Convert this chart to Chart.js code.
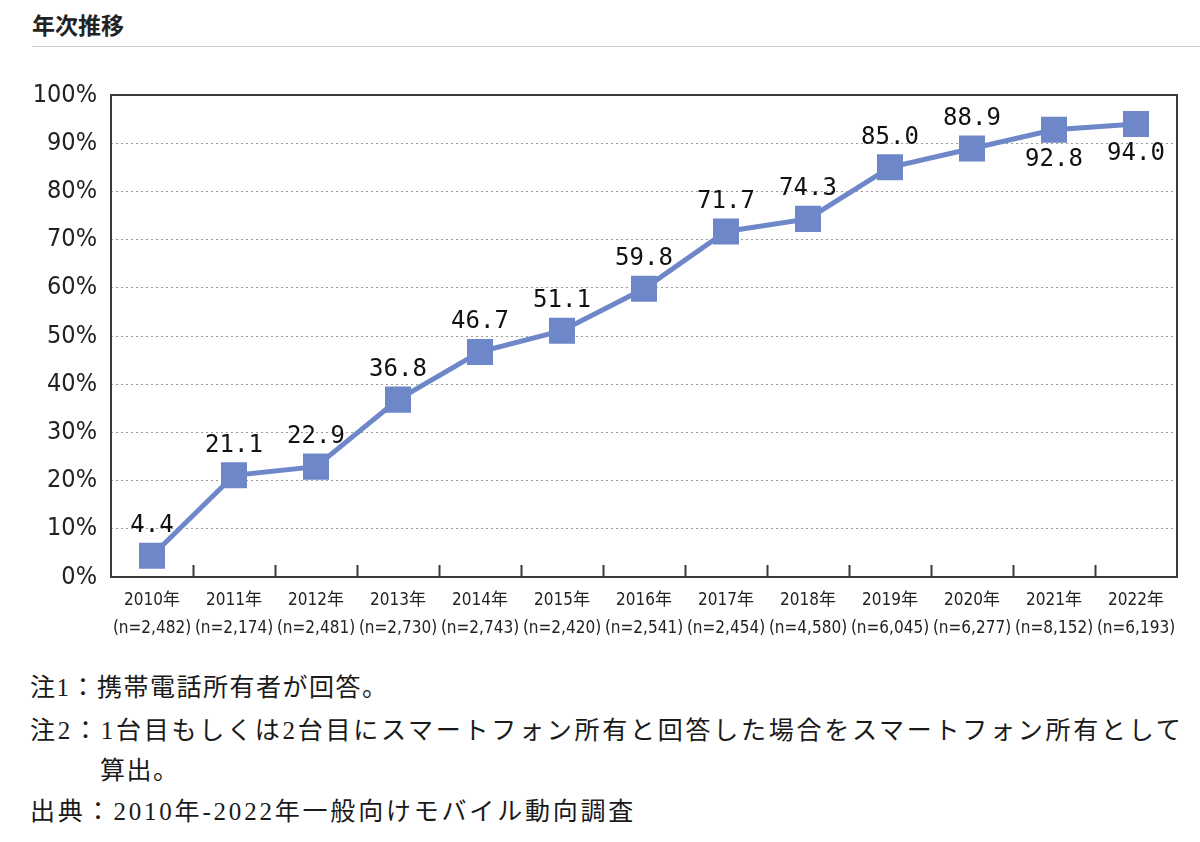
<!DOCTYPE html>
<html lang="ja">
<head>
<meta charset="utf-8">
<script src="https://cdn.jsdelivr.net/npm/chart.js@4"></script>
<style>
  body { margin: 0; background: #fff; width: 1200px; height: 842px; position: relative; overflow: hidden; }
  #title { position: absolute; left: 32px; top: 8px; font: bold 23px "Noto Sans CJK JP", sans-serif; color: #222; line-height: 32px; }
  #rule { position: absolute; left: 32px; right: 0; top: 46px; height: 0; border-top: 1px solid #c8c8c8; }
  #chartBox { position: absolute; left: 0; top: 60px; width: 1200px; height: 600px; }
  .note { position: absolute; left: 30px; font: 25px "Liberation Serif", "Noto Sans CJK JP", serif; color: #1a1a1a; line-height: 34px; white-space: nowrap; letter-spacing: 1.5px; }
</style>
</head>
<body>
<div id="title">年次推移</div>
<div id="rule"></div>
<div id="chartBox"><canvas id="myChart" width="1200" height="600"></canvas></div>
<div class="note" style="top:671px">注1：携帯電話所有者が回答。</div>
<div class="note" style="top:714px;letter-spacing:2.75px">注2：1台目もしくは2台目にスマートフォン所有と回答した場合をスマートフォン所有として</div>
<div class="note" style="top:754px;left:100px">算出。</div>
<div class="note" style="top:795px;letter-spacing:2.8px">出典：2010年-2022年一般向けモバイル動向調査</div>
<script>
const years = ["2010年", "2011年", "2012年", "2013年", "2014年", "2015年", "2016年", "2017年", "2018年", "2019年", "2020年", "2021年", "2022年"];
const sampleSizes = ["(n=2,482)", "(n=2,174)", "(n=2,481)", "(n=2,730)", "(n=2,743)", "(n=2,420)", "(n=2,541)", "(n=2,454)", "(n=4,580)", "(n=6,045)", "(n=6,277)", "(n=8,152)", "(n=6,193)"];
const ownership = [4.4, 21.1, 22.9, 36.8, 46.7, 51.1, 59.8, 71.7, 74.3, 85.0, 88.9, 92.8, 94.0];

const labels = years.map(function (y, i) { return [y, sampleSizes[i]]; });
const lineColor = "#6e87c8";
const condensed = '"DejaVu Sans Condensed", "Noto Sans CJK JP", sans-serif';
// labels drawn under the marker instead of above
const labelsBelow = [11, 12];

// frame around plot area plus short ticks between categories
const framePlugin = {
  id: "frame",
  beforeDatasetsDraw(chart) {
    const ctx = chart.ctx;
    const a = chart.chartArea;
    const xs = chart.scales.x;
    ctx.save();
    ctx.strokeStyle = "#3a3a3a";
    ctx.lineWidth = 2;
    ctx.strokeRect(a.left, a.top, a.right - a.left, a.bottom - a.top);
    ctx.beginPath();
    for (let i = 1; i < labels.length; i++) {
      const x = Math.round((xs.getPixelForTick(i - 1) + xs.getPixelForTick(i)) / 2) + 0.5;
      ctx.moveTo(x, a.bottom);
      ctx.lineTo(x, a.bottom - 12);
    }
    ctx.stroke();
    ctx.restore();
  }
};

const valueLabels = {
  id: "valueLabels",
  afterDatasetsDraw(chart) {
    const ctx = chart.ctx;
    const meta = chart.getDatasetMeta(0);
    ctx.save();
    ctx.font = '24px "DejaVu Sans Mono", monospace';
    ctx.fillStyle = "#111";
    ctx.textAlign = "center";
    ctx.textBaseline = "middle";
    meta.data.forEach(function (pt, i) {
      const off = labelsBelow.includes(i) ? 30 : -30;
      ctx.fillText(ownership[i].toFixed(1), pt.x, pt.y + off);
    });
    ctx.restore();
  }
};

const ctx = document.getElementById("myChart").getContext("2d");
const myChart = new Chart(ctx, {
  type: "line",
  data: {
    labels: labels,
    datasets: [
      {
        data: ownership,
        borderColor: lineColor,
        backgroundColor: lineColor,
        borderWidth: 5,
        pointStyle: "rect",
        pointRadius: 18.4,
        pointBorderWidth: 0,
        pointBackgroundColor: lineColor,
        tension: 0,
      },
    ],
  },
  options: {
    responsive: false,
    animation: false,
    devicePixelRatio: 1,
    layout: { padding: { left: 0, right: 23, top: 35, bottom: 0 } },
    plugins: { legend: { display: false }, tooltip: { enabled: false } },
    scales: {
      x: {
        offset: true,
        grid: { display: false, drawTicks: false },
        border: { display: false },
        ticks: {
          color: "#222",
          font: { family: condensed, size: 17, lineHeight: 1.65 },
          padding: 10,
          maxRotation: 0,
          autoSkip: false,
        },
        afterFit(scale) { scale.height = 83; },
      },
      y: {
        min: 0,
        max: 100,
        grid: {
          drawTicks: false,
          color: function (c) {
            return c.tick.value === 0 || c.tick.value === 100 ? "rgba(0,0,0,0)" : "#9a9a9a";
          },
          lineWidth: 1,
        },
        border: { display: false, dash: [2, 3] },
        ticks: {
          stepSize: 10,
          color: "#222",
          font: { family: condensed, size: 25 },
          padding: 14,
          callback: function (v) { return v + "%"; },
        },
        afterFit(scale) { scale.width = 111; },
      },
    },
  },
  plugins: [framePlugin, valueLabels],
});
</script>
</body>
</html>
